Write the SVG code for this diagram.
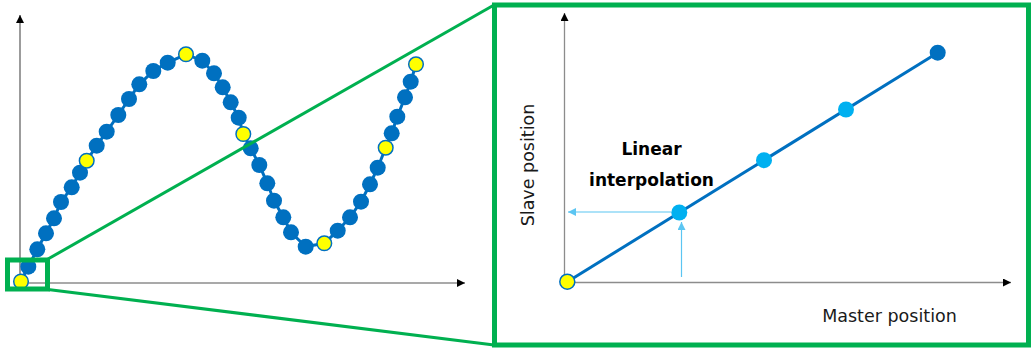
<svg xmlns="http://www.w3.org/2000/svg" width="1031" height="349" viewBox="0 0 1031 349">
<style>
.axis{stroke:#8c8c8c;stroke-width:1.3;fill:none}
.axisL{stroke:#595959;stroke-width:1.2;fill:none}
.zoom{stroke:#00B050;fill:none}
.curve{stroke:#0070C0;stroke-width:3;fill:none}
.b{fill:#0070C0}
.y{fill:#FFFF00;stroke:#0070C0;stroke-width:1.5}
.lb{fill:#00B0F0}
.guide{stroke:#5BC5F2;stroke-width:1.2;fill:none}
.lbl{font-family:"DejaVu Sans",Verdana,sans-serif;font-size:17.5px;fill:#1a1a1a}
.bold{font-family:"DejaVu Sans",Verdana,sans-serif;font-size:17px;font-weight:bold;fill:#000}
</style>
<defs>
<marker id="ah" viewBox="0 0 10 10" refX="10" refY="5" markerWidth="9" markerHeight="8" markerUnits="userSpaceOnUse" orient="auto"><path d="M0,0 L10,5 L0,10 Z" fill="#000"/></marker>
<marker id="ahl" viewBox="0 0 10 10" refX="10" refY="5" markerWidth="9" markerHeight="8" markerUnits="userSpaceOnUse" orient="auto"><path d="M0,0 L10,5 L0,10 Z" fill="#5BC5F2"/></marker>
</defs>
<rect width="1031" height="349" fill="#fff"/>

<g id="left-axes">
<line class="axisL" x1="20" y1="290" x2="20" y2="15" marker-end="url(#ah)"/>
<line class="axis" x1="20" y1="283" x2="465" y2="283" marker-end="url(#ah)"/>
</g>

<g id="cam-curve">
<polyline class="curve" points="21,281 28.3,266.7 37.3,249.3 46,233.3 54,218.3 61,202 71.7,187.3 80,172.7 86.7,160.7 96.7,145.7 106.7,131.7 118.3,115 129,99 139.3,84.3 153.3,71 167.7,62.7 186,54.3 202.3,60.7 214,73.3 222.7,87.3 230.7,102.3 238.7,117.7 243.3,134 250.7,148.3 259.3,165 267.3,183.3 274,200.7 283.3,217.3 291,232.3 305.7,246.7 324.3,243.3 337.7,230.7 350,217.3 361,201.7 370,184.3 377.7,167.7 385.7,147.7 391.7,133.3 397.3,116.7 405,97.3 410.7,81.7 416,64.3"/>
<g class="b">
<circle cx="28.3" cy="266.7" r="8"/><circle cx="37.3" cy="249.3" r="8"/><circle cx="46" cy="233.3" r="8"/><circle cx="54" cy="218.3" r="8"/><circle cx="61" cy="202" r="8"/><circle cx="71.7" cy="187.3" r="8"/><circle cx="80" cy="172.7" r="8"/>
<circle cx="96.7" cy="145.7" r="8"/><circle cx="106.7" cy="131.7" r="8"/><circle cx="118.3" cy="115" r="8"/><circle cx="129" cy="99" r="8"/><circle cx="139.3" cy="84.3" r="8"/><circle cx="153.3" cy="71" r="8"/><circle cx="167.7" cy="62.7" r="8"/>
<circle cx="202.3" cy="60.7" r="8"/><circle cx="214" cy="73.3" r="8"/><circle cx="222.7" cy="87.3" r="8"/><circle cx="230.7" cy="102.3" r="8"/><circle cx="238.7" cy="117.7" r="8"/>
<circle cx="250.7" cy="148.3" r="8"/><circle cx="259.3" cy="165" r="8"/><circle cx="267.3" cy="183.3" r="8"/><circle cx="274" cy="200.7" r="8"/><circle cx="283.3" cy="217.3" r="8"/><circle cx="291" cy="232.3" r="8"/><circle cx="305.7" cy="246.7" r="8"/>
<circle cx="337.7" cy="230.7" r="8"/><circle cx="350" cy="217.3" r="8"/><circle cx="361" cy="201.7" r="8"/><circle cx="370" cy="184.3" r="8"/><circle cx="377.7" cy="167.7" r="8"/>
<circle cx="391.7" cy="133.3" r="8"/><circle cx="397.3" cy="116.7" r="8"/><circle cx="405" cy="97.3" r="8"/><circle cx="410.7" cy="81.7" r="8"/>
</g>
<g class="y">
<circle cx="21" cy="281.5" r="7.3"/><circle cx="86.7" cy="160.7" r="7.3"/><circle cx="186" cy="54.3" r="7.3"/><circle cx="243.3" cy="134" r="7.3"/><circle cx="324.3" cy="243.3" r="7.3"/><circle cx="385.7" cy="147.7" r="7.3"/><circle cx="416" cy="64.3" r="7.3"/>
</g>
</g>

<g id="zoom-box-small">
<rect class="zoom" x="7.5" y="260" width="40" height="29" stroke-width="5"/>
</g>

<g id="connectors">
<line class="zoom" x1="48" y1="259" x2="494" y2="5" stroke-width="3"/>
<line class="zoom" x1="48" y1="289.5" x2="494" y2="345" stroke-width="3"/>
<line class="guide" x1="671" y1="212" x2="568" y2="212" marker-end="url(#ahl)"/>
<line class="guide" x1="681.5" y1="277" x2="681.5" y2="222" marker-end="url(#ahl)"/>
</g>

<g id="zoom-box-large">
<rect class="zoom" x="494.5" y="5" width="534" height="340" stroke-width="5"/>
</g>

<g id="right-axes">
<line class="axis" x1="564.5" y1="283" x2="564.5" y2="13" marker-end="url(#ah)"/>
<line class="axis" x1="564.5" y1="282.5" x2="1011" y2="282.5" marker-end="url(#ah)"/>
<text class="lbl" transform="translate(534,165) rotate(-90)" text-anchor="middle">Slave position</text>
<text class="lbl" x="889.5" y="322" text-anchor="middle">Master position</text>
</g>

<g id="interp-line">
<line x1="567" y1="282" x2="937.7" y2="52.7" stroke="#0070C0" stroke-width="3"/>
<circle class="lb" cx="679.3" cy="212.5" r="8"/>
<circle class="lb" cx="764" cy="160.2" r="8"/>
<circle class="lb" cx="846" cy="109.5" r="8"/>
<circle class="b" cx="937.7" cy="52.7" r="8"/>
<circle class="y" cx="567.3" cy="281.7" r="7.5"/>
</g>

<g id="label-linear">
<text class="bold" x="651.5" y="155" text-anchor="middle">Linear</text>
<text class="bold" x="651.5" y="186" text-anchor="middle">interpolation</text>
</g>
</svg>
